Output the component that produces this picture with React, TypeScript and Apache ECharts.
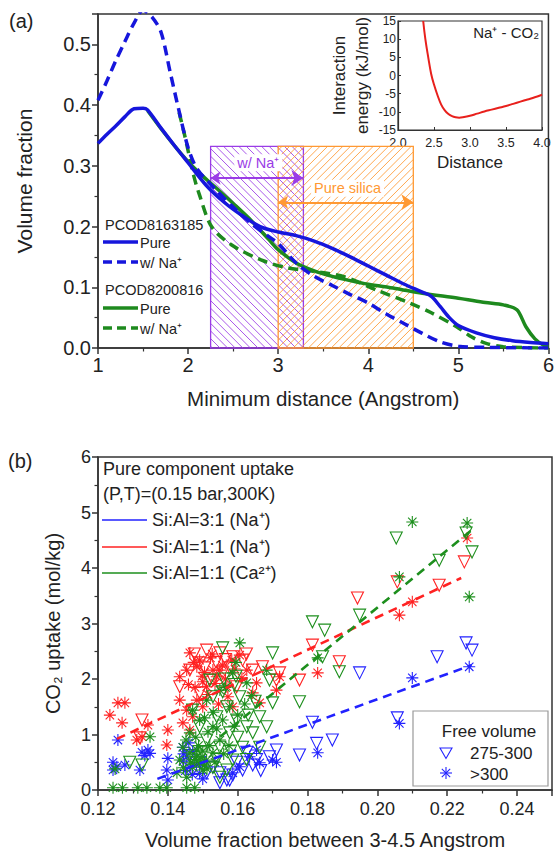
import React, { useEffect, useRef } from 'react';
import * as echarts from 'echarts';

const FF = '"Liberation Sans", Arial, Helvetica, sans-serif';

// ---------- Panel (a): volume fraction vs minimum distance ----------
const pcod8163185Pure: [number, number][] = [
  [1.0, 0.337], [1.1, 0.352], [1.2, 0.366], [1.3, 0.381], [1.4, 0.394], [1.5, 0.395], [1.55, 0.392],
  [1.7, 0.362], [1.85, 0.333], [2.0, 0.305], [2.2, 0.268], [2.4, 0.24], [2.6, 0.218], [2.8, 0.2],
  [3.0, 0.191], [3.2, 0.185], [3.4, 0.176], [3.6, 0.164], [3.8, 0.15], [4.0, 0.135], [4.2, 0.12],
  [4.4, 0.105], [4.6, 0.092], [4.7, 0.085], [4.8, 0.068], [4.9, 0.05], [5.0, 0.037], [5.2, 0.025],
  [5.4, 0.017], [5.6, 0.012], [5.8, 0.009], [6.0, 0.007],
];
const pcod8163185Na: [number, number][] = [
  [1.0, 0.408], [1.1, 0.44], [1.2, 0.474], [1.3, 0.505], [1.4, 0.535], [1.5, 0.556], [1.6, 0.545],
  [1.7, 0.52], [1.8, 0.455], [1.9, 0.39], [2.0, 0.33], [2.1, 0.295], [2.3, 0.262], [2.5, 0.232],
  [2.7, 0.205], [2.9, 0.183], [3.0, 0.172], [3.2, 0.14], [3.4, 0.118], [3.6, 0.103], [3.8, 0.088],
  [4.0, 0.074], [4.2, 0.056], [4.4, 0.04], [4.6, 0.024], [4.8, 0.01], [5.0, 0.003], [5.3, 0.001], [6.0, 0.0],
];
const pcod8200816Pure: [number, number][] = [
  [1.55, 0.391], [1.7, 0.361], [1.85, 0.333], [2.0, 0.307], [2.15, 0.285], [2.3, 0.265], [2.5, 0.238],
  [2.7, 0.21], [2.9, 0.178], [3.0, 0.162], [3.2, 0.14], [3.4, 0.127], [3.6, 0.118], [3.8, 0.111],
  [4.0, 0.105], [4.3, 0.098], [4.6, 0.09], [5.0, 0.082], [5.3, 0.075], [5.5, 0.071], [5.65, 0.063],
  [5.75, 0.035], [5.85, 0.015], [5.95, 0.004], [6.0, 0.002],
];
const pcod8200816Na: [number, number][] = [
  [1.9, 0.388], [1.95, 0.358], [2.0, 0.325], [2.06, 0.285], [2.12, 0.255], [2.26, 0.2], [2.48, 0.17],
  [2.81, 0.145], [3.1, 0.132], [3.36, 0.127], [3.74, 0.117], [4.1, 0.095], [4.46, 0.074], [4.7, 0.058],
  [4.98, 0.035], [5.15, 0.018], [5.3, 0.008], [5.5, 0.002], [6.0, 0.0],
];

// hatched distance windows
const regionNames = ['w/ Na⁺', 'Pure silica'];
const regionStart = [2.25, 3.0];
const regionEnd = [3.28, 4.5];
const regionTop = [0.332, 0.332];
const regionArrowY = [0.28, 0.24];
const regionLabelX = [2.78, 3.77];
const regionLabelY = [0.305, 0.263];
const regionColors = ['#9a3ce6', '#ff9933'];
const regionHatchDir = [0, 1];

// inset: interaction energy Na+ - CO2
const insetCurve: [number, number][] = [
  [2.35, 15], [2.38, 10], [2.42, 5], [2.46, 0.5], [2.5, -2.5], [2.55, -5.5], [2.6, -8], [2.65, -9.6],
  [2.7, -10.6], [2.75, -11.2], [2.8, -11.5], [2.85, -11.6], [2.9, -11.5], [3.0, -11.1], [3.1, -10.5],
  [3.2, -9.9], [3.3, -9.4], [3.4, -8.9], [3.5, -8.4], [3.6, -7.8], [3.7, -7.2], [3.8, -6.6], [3.9, -6.0],
  [4.0, -5.3],
];

// ---------- Panel (b): CO2 uptake vs volume fraction ----------
const blueTri: [number, number][] = [
  [0.1549, 0.31], [0.1569, 0.18], [0.1549, 0.13], [0.1511, 0.31], [0.1577, 0.18], [0.1614, 0.36],
  [0.1691, 0.6], [0.1711, 0.72], [0.1777, 0.63], [0.1826, 0.84], [0.1871, 0.9], [0.1814, 1.22],
  [0.1949, 2.11], [0.2057, 1.3], [0.2171, 2.4], [0.2254, 2.65], [0.2271, 2.52], [0.1529, 0.41],
  [0.1597, 0.5], [0.1643, 0.45], [0.1491, 0.5], [0.1463, 0.62], [0.1586, 0.27], [0.1654, 0.55],
  [0.1626, 0.68], [0.1666, 0.35],
];
const blueStar: [number, number][] = [
  [0.1243, 0.36], [0.1254, 0.42], [0.1277, 0.45], [0.1257, 0.9], [0.1243, 0.5], [0.132, 0.36],
  [0.1326, 0.68], [0.1343, 0.72], [0.1349, 0.66], [0.1334, 0.62], [0.14, 0.57], [0.1397, 0.36],
  [0.14, 0.18], [0.1443, 0.77], [0.1454, 0.6], [0.1463, 0.41], [0.1471, 0.7], [0.1443, 0.52],
  [0.1491, 0.3], [0.1634, 0.6], [0.1663, 0.49], [0.1711, 0.5], [0.1654, 0.72], [0.17, 0.54],
  [0.1586, 0.31], [0.1606, 0.42], [0.1829, 0.67], [0.2063, 1.2], [0.21, 2.02], [0.2263, 2.22],
  [0.145, 0.35], [0.147, 0.28], [0.1482, 0.45], [0.15, 0.2], [0.146, 0.85], [0.1445, 0.65],
];
const redTri: [number, number][] = [
  [0.1326, 1.26], [0.132, 0.94], [0.1511, 2.52], [0.1549, 2.47], [0.1491, 2.29], [0.1586, 2.4],
  [0.1614, 2.34], [0.1643, 2.16], [0.1671, 2.22], [0.1711, 1.98], [0.172, 2.11], [0.1463, 2.16],
  [0.1434, 1.86], [0.1557, 2.11], [0.1529, 1.98], [0.1491, 1.75], [0.1597, 1.86], [0.1777, 1.98],
  [0.1814, 2.61], [0.1891, 2.31], [0.1943, 3.46], [0.2057, 3.75], [0.2177, 3.69], [0.2249, 4.11],
  [0.1505, 2.2], [0.1538, 2.3], [0.1476, 2.45], [0.1565, 2.35], [0.1625, 2.45], [0.1578, 2.2],
];
const redStar: [number, number][] = [
  [0.1234, 1.35], [0.1257, 1.57], [0.1277, 1.57], [0.1269, 1.21], [0.1311, 0.9], [0.1326, 0.96],
  [0.1343, 1.17], [0.14, 1.08], [0.1397, 0.81], [0.1463, 2.47], [0.1434, 2.04], [0.1454, 2.16],
  [0.1483, 2.22], [0.1491, 2.34], [0.1529, 2.16], [0.1549, 2.16], [0.154, 2.04], [0.1511, 1.86],
  [0.1483, 1.62], [0.1454, 1.44], [0.1471, 1.32], [0.15, 1.5], [0.1583, 2.34], [0.1606, 2.43],
  [0.1626, 2.16], [0.1654, 1.93], [0.1663, 1.57], [0.1711, 1.8], [0.172, 2.04], [0.1643, 1.75],
  [0.1569, 1.86], [0.1586, 1.5], [0.1434, 1.62], [0.1443, 1.21], [0.1463, 1.08], [0.1829, 2.11],
  [0.2063, 3.15], [0.21, 3.39], [0.2257, 4.54],
  [0.1474, 2.3], [0.1505, 2.12], [0.1522, 2.38], [0.1535, 1.92], [0.1556, 2.25], [0.1565, 2.0],
  [0.15, 1.95], [0.1515, 1.72], [0.1545, 1.55], [0.1478, 1.85], [0.1459, 1.9], [0.1527, 2.45],
  [0.1592, 2.18], [0.1612, 2.02], [0.1572, 1.68], [0.1498, 2.05],
];
const greenTri: [number, number][] = [
  [0.1291, 0.5], [0.1326, 0.45], [0.1557, 2.56], [0.152, 1.98], [0.1557, 1.77], [0.1529, 1.68],
  [0.1606, 1.68], [0.1597, 1.26], [0.1626, 1.14], [0.1643, 1.03], [0.1614, 0.77], [0.1586, 0.54],
  [0.1569, 0.36], [0.1549, 0.23], [0.1529, 0.41], [0.1549, 0.77], [0.1577, 1.03], [0.1511, 0.9],
  [0.1491, 1.14], [0.154, 1.32], [0.1569, 1.5], [0.1663, 1.32], [0.1691, 1.98], [0.17, 2.47],
  [0.17, 1.57], [0.1683, 1.14], [0.1663, 0.77], [0.1471, 1.44], [0.15, 0.67], [0.1471, 0.54],
  [0.1777, 1.59], [0.1814, 3.03], [0.1843, 2.4], [0.1849, 2.88], [0.1891, 2.13], [0.1949, 3.15],
  [0.2054, 4.54], [0.2177, 4.14], [0.2254, 4.63], [0.2271, 4.29],
  [0.156, 2.0], [0.159, 1.9], [0.163, 1.35], [0.165, 1.6], [0.16, 0.95], [0.158, 0.7], [0.1625, 0.55],
  [0.154, 0.55], [0.1595, 2.05],
];
const greenStar: [number, number][] = [
  [0.1243, 0.04], [0.127, 0.04], [0.1314, 0.04], [0.134, 0.04], [0.1377, 0.04], [0.1397, 0.04],
  [0.1454, 0.04], [0.1477, 0.04], [0.1249, 0.38], [0.1349, 0.96], [0.1606, 2.65], [0.1586, 2.11],
  [0.1626, 1.93], [0.1683, 2.16], [0.1549, 1.8], [0.1511, 1.62], [0.1471, 1.44], [0.1491, 1.26],
  [0.1529, 1.14], [0.1463, 1.03], [0.1443, 0.77], [0.1463, 0.67], [0.1483, 0.6], [0.1491, 0.49],
  [0.1471, 0.41], [0.1511, 0.54], [0.15, 0.36], [0.1529, 0.67], [0.1549, 0.9], [0.1557, 1.26],
  [0.1577, 1.5], [0.1434, 0.54], [0.1426, 0.31], [0.1454, 0.23], [0.1477, 0.55], [0.1495, 0.58],
  [0.1505, 0.45], [0.1483, 0.72], [0.1829, 2.38], [0.2063, 3.84], [0.21, 4.83], [0.2257, 4.81],
  [0.2263, 3.48],
  [0.152, 0.8], [0.15, 0.7], [0.1488, 0.8], [0.1465, 0.5], [0.1512, 0.38], [0.1535, 0.5], [0.148, 0.95],
  [0.1515, 1.05], [0.154, 1.1], [0.156, 0.65], [0.1575, 0.8], [0.159, 1.15], [0.16, 1.35], [0.162, 1.55],
  [0.164, 1.7], [0.153, 1.4], [0.1505, 1.3], [0.1565, 1.85], [0.1595, 2.3], [0.1452, 0.9], [0.1445, 0.4],
];
const blueFit: [number, number][] = [[0.137, 0.2], [0.227, 2.25]];
const redFit: [number, number][] = [[0.1254, 0.92], [0.224, 3.82]];
const greenFit: [number, number][] = [[0.155, 0.96], [0.2269, 4.68]];

const BLUE_A = '#1616dc';
const GREEN_A = '#1e8a1e';
const BLUE_B = '#2222ff';
const RED_B = '#ff2222';
const GREEN_B = '#1d8f1d';
const AX = '#333';
const TXT = '#222';

const TRI = 'path://M0 0L10 0L5 8.66Z';
const STAR = 'path://M5 0L5 10M0 5L10 5M1.5 1.5L8.5 8.5M1.5 8.5L8.5 1.5';

function axisCommon(fontSize: number) {
  return {
    axisLine: { show: true, onZero: false, lineStyle: { color: AX, width: 1.5 } },
    axisTick: { show: true, inside: false, length: 6, lineStyle: { color: AX, width: 1.5 } },
    minorTick: { show: true, splitNumber: 2, length: 3.5, lineStyle: { color: AX, width: 1.2 } },
    axisLabel: { fontSize, color: TXT, fontFamily: FF, margin: 7 },
    splitLine: { show: false },
    nameTextStyle: { color: TXT, fontFamily: FF },
  };
}

function scatterSeries(data: [number, number][], color: string, symbol: string, size: number) {
  return {
    type: 'scatter',
    xAxisIndex: 2,
    yAxisIndex: 2,
    data,
    symbol,
    symbolSize: size,
    silent: true,
    itemStyle: { color: 'rgba(0,0,0,0)', borderColor: color, borderWidth: 1.1, opacity: 1 },
    emphasis: { disabled: true },
  };
}

function fitSeries(data: [number, number][], color: string) {
  return {
    type: 'line',
    xAxisIndex: 2,
    yAxisIndex: 2,
    data,
    symbol: 'none',
    silent: true,
    z: 5,
    lineStyle: { color, width: 2.6, type: [9, 6] },
  };
}

function curve(data: [number, number][], color: string, dashed: boolean) {
  return {
    type: 'line',
    xAxisIndex: 0,
    yAxisIndex: 0,
    data,
    symbol: 'none',
    smooth: 0.3,
    silent: true,
    z: 4,
    clip: true,
    lineStyle: { color, width: 3.5, type: dashed ? [10, 6] : 'solid' },
  };
}

function txt(text: string, x: number, y: number, size: number, fill = TXT, align = 'left') {
  return {
    type: 'text',
    x,
    y,
    z: 100,
    silent: true,
    style: { text, fontSize: size, fontFamily: FF, fill, align, verticalAlign: 'middle' },
  };
}
function seg(x1: number, y1: number, x2: number, y2: number, stroke: string, w: number, dash?: number[]) {
  return {
    type: 'line',
    z: 100,
    silent: true,
    shape: { x1, y1, x2, y2 },
    style: { stroke, lineWidth: w, lineDash: dash },
  };
}

export default function App() {
  const ref = useRef<HTMLDivElement>(null);
  useEffect(() => {
    if (!ref.current) return;
    const chart = echarts.init(ref.current, null, { renderer: 'svg' });

    const hatchData = regionStart.map((s, i) => [s, regionEnd[i], regionTop[i]]);

    const option: any = {
      animation: false,
      textStyle: { fontFamily: FF },
      grid: [
        { left: 98, top: 14, width: 455, height: 334, show: true, borderColor: AX, borderWidth: 1.5 },
        { left: 398, top: 21, width: 144, height: 109, show: true, borderColor: AX, borderWidth: 1.2 },
        { left: 98, top: 457, width: 454, height: 333, show: true, borderColor: AX, borderWidth: 1.5 },
      ],
      xAxis: [
        {
          ...axisCommon(20),
          gridIndex: 0, type: 'value', min: 1, max: 6, interval: 1,
          name: 'Minimum distance (Angstrom)', nameLocation: 'middle', nameGap: 40,
          nameTextStyle: { fontSize: 20.5, color: TXT, fontFamily: FF },
        },
        {
          ...axisCommon(12.5),
          gridIndex: 1, type: 'value', min: 2, max: 4, interval: 0.5,
          axisTick: { show: true, inside: true, length: 3, lineStyle: { color: AX, width: 1 } },
          minorTick: { show: false },
          axisLine: { show: true, onZero: false, lineStyle: { color: AX, width: 1.2 } },
          axisLabel: { fontSize: 12.5, color: TXT, fontFamily: FF, margin: 6, formatter: (v: number) => v.toFixed(1) },
          name: 'Distance', nameLocation: 'middle', nameGap: 24,
          nameTextStyle: { fontSize: 17, color: TXT, fontFamily: FF },
        },
        {
          ...axisCommon(18),
          gridIndex: 2, type: 'value', min: 0.12, max: 0.25, interval: 0.02,
          axisLabel: { fontSize: 18, color: TXT, fontFamily: FF, margin: 10,
            formatter: (v: number) => (v > 0.245 ? '' : v.toFixed(2)) },
          name: 'Volume fraction between 3-4.5 Angstrom', nameLocation: 'middle', nameGap: 40,
          nameTextStyle: { fontSize: 20, color: TXT, fontFamily: FF },
        },
      ],
      yAxis: [
        {
          ...axisCommon(20),
          gridIndex: 0, type: 'value', min: 0, max: 0.55, interval: 0.1,
          axisLabel: { fontSize: 20, color: TXT, fontFamily: FF, margin: 7,
            formatter: (v: number) => (v > 0.51 ? '' : v.toFixed(1)) },
          name: 'Volume fraction', nameLocation: 'middle', nameGap: 63,
          nameTextStyle: { fontSize: 21, color: TXT, fontFamily: FF },
        },
        {
          ...axisCommon(12),
          gridIndex: 1, type: 'value', min: -15, max: 15, interval: 5,
          axisTick: { show: true, inside: true, length: 3, lineStyle: { color: AX, width: 1 } },
          minorTick: { show: false },
          axisLine: { show: true, onZero: false, lineStyle: { color: AX, width: 1.2 } },
          axisLabel: { fontSize: 12, color: TXT, fontFamily: FF, margin: 2 },
          name: 'Interaction\nenergy (kJ/mol)', nameLocation: 'middle', nameGap: 24,
          nameTextStyle: { fontSize: 17, color: TXT, fontFamily: FF, lineHeight: 23 },
        },
        {
          ...axisCommon(18),
          gridIndex: 2, type: 'value', min: 0, max: 6, interval: 1,
          name: 'CO₂ uptake (mol/kg)', nameLocation: 'middle', nameGap: 35,
          nameTextStyle: { fontSize: 20, color: TXT, fontFamily: FF },
        },
      ],
      series: [
        {
          type: 'custom',
          xAxisIndex: 0,
          yAxisIndex: 0,
          silent: true,
          z: 1,
          encode: { x: [0, 1], y: 2 },
          data: hatchData,
          renderItem: (params: any, api: any) => {
            const i = params.dataIndex;
            const p0 = api.coord([api.value(0), api.value(2)]);
            const p1 = api.coord([api.value(1), 0]);
            const x0 = p0[0], y0 = p0[1], x1 = p1[0], y1 = p1[1];
            const color = regionColors[i];
            const step = 7.6;
            const children: any[] = [];
            if (regionHatchDir[i] === 0) {
              for (let c = y0 - x1 + step / 2; c < y1 - x0; c += step) {
                const xa = Math.max(x0, y0 - c), xb = Math.min(x1, y1 - c);
                if (xb > xa) children.push({ type: 'line', shape: { x1: xa, y1: xa + c, x2: xb, y2: xb + c }, style: { stroke: color, lineWidth: 1, opacity: 0.85 } });
              }
            } else {
              for (let c = x0 + y0 + step / 2; c < x1 + y1; c += step) {
                const xa = Math.max(x0, c - y1), xb = Math.min(x1, c - y0);
                if (xb > xa) children.push({ type: 'line', shape: { x1: xa, y1: c - xa, x2: xb, y2: c - xb }, style: { stroke: color, lineWidth: 1, opacity: 0.85 } });
              }
            }
            children.push({ type: 'rect', shape: { x: x0, y: y0, width: x1 - x0, height: y1 - y0 }, style: { fill: 'none', stroke: color, lineWidth: 1.3 } });
            return { type: 'group', children };
          },
        },
        curve(pcod8200816Pure, GREEN_A, false),
        curve(pcod8200816Na, GREEN_A, true),
        curve(pcod8163185Na, BLUE_A, true),
        curve(pcod8163185Pure, BLUE_A, false),
        ...regionStart.map((s, i) => ({
          type: 'lines',
          coordinateSystem: 'cartesian2d',
          xAxisIndex: 0,
          yAxisIndex: 0,
          silent: true,
          z: 6,
          symbol: ['arrow', 'arrow'],
          symbolSize: [10, 12],
          lineStyle: { color: regionColors[i], width: 2, opacity: 1 },
          data: [{ coords: [[s, regionArrowY[i]], [regionEnd[i], regionArrowY[i]]] }],
        })),
        {
          type: 'custom',
          xAxisIndex: 0,
          yAxisIndex: 0,
          silent: true,
          z: 7,
          data: regionLabelX.map((x, i) => [x, regionLabelY[i]]),
          renderItem: (params: any, api: any) => {
            const i = params.dataIndex;
            const p = api.coord([api.value(0), api.value(1)]);
            return {
              type: 'text',
              x: p[0],
              y: p[1],
              style: {
                text: regionNames[i], fill: regionColors[i], fontSize: 14.5, fontFamily: FF,
                align: 'center', verticalAlign: 'middle', backgroundColor: '#fff', padding: [1, 3],
              },
            };
          },
        },
        {
          type: 'line',
          xAxisIndex: 1,
          yAxisIndex: 1,
          data: insetCurve,
          symbol: 'none',
          smooth: 0.4,
          silent: true,
          lineStyle: { color: '#e8201c', width: 2 },
        },
        scatterSeries(blueTri, BLUE_B, TRI, 12),
        scatterSeries(blueStar, BLUE_B, STAR, 12),
        scatterSeries(redTri, RED_B, TRI, 12),
        scatterSeries(redStar, RED_B, STAR, 12),
        scatterSeries(greenTri, GREEN_B, TRI, 12),
        scatterSeries(greenStar, GREEN_B, STAR, 12),
        fitSeries(blueFit, BLUE_B),
        fitSeries(redFit, RED_B),
        fitSeries(greenFit, GREEN_B),
      ],
      graphic: [
        txt('(a)', 9, 21, 20),
        txt('(b)', 8, 461, 20),
        // inset title
        txt('Na⁺ - CO₂', 539, 32, 15, TXT, 'right'),
        // legend (a)
        txt('PCOD8163185', 105, 225, 14.5),
        seg(103, 242, 138, 242, BLUE_A, 3.5),
        txt('Pure', 140, 243, 14.5),
        seg(103, 262, 138, 262, BLUE_A, 3.5, [9, 5]),
        txt('w/ Na⁺', 140, 263, 14.5),
        txt('PCOD8200816', 105, 290, 14.5),
        seg(103, 308, 138, 308, GREEN_A, 3.5),
        txt('Pure', 140, 309, 14.5),
        seg(103, 328, 138, 328, GREEN_A, 3.5, [9, 5]),
        txt('w/ Na⁺', 140, 329, 14.5),
        // legend (b)
        txt('Pure component uptake', 103, 469, 18),
        txt('(P,T)=(0.15 bar,300K)', 103, 494, 18),
        seg(102, 520, 147, 520, BLUE_B, 1.6),
        txt('Si:Al=3:1 (Na⁺)', 152, 520, 18),
        seg(102, 547, 147, 547, RED_B, 1.6),
        txt('Si:Al=1:1 (Na⁺)', 152, 547, 18),
        seg(102, 573, 147, 573, GREEN_B, 1.6),
        txt('Si:Al=1:1 (Ca²⁺)', 152, 573, 18),
        // free volume legend box
        {
          type: 'rect', z: 99, silent: true,
          shape: { x: 413, y: 711, width: 135, height: 75 },
          style: { fill: '#fff', stroke: '#999', lineWidth: 1.2 },
        },
        txt('Free volume', 489, 731, 17, TXT, 'center'),
        {
          type: 'polygon', z: 100, silent: true,
          shape: { points: [[440, 748], [452, 748], [446, 758.5]] },
          style: { fill: 'none', stroke: BLUE_B, lineWidth: 1.1 },
        },
        txt('275-300', 470, 753, 17),
        seg(446, 767, 446, 779, BLUE_B, 1.1),
        seg(440, 773, 452, 773, BLUE_B, 1.1),
        seg(441.8, 768.8, 450.2, 777.2, BLUE_B, 1.1),
        seg(441.8, 777.2, 450.2, 768.8, BLUE_B, 1.1),
        txt('>300', 470, 774, 17),
      ],
    };
    chart.setOption(option);
    return () => chart.dispose();
  }, []);
  return (
    <div
      ref={ref}
      style={{ position: 'absolute', left: 0, top: 0, width: 557, height: 853, background: '#fff' }}
    />
  );
}
